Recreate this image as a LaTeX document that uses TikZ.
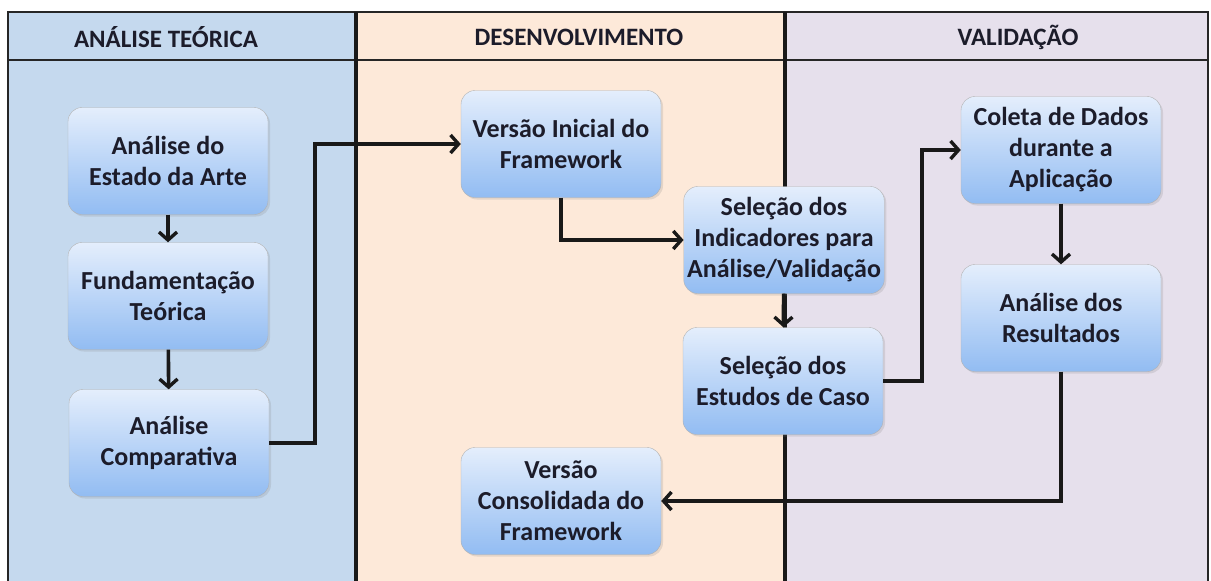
\documentclass[tikz,border=0pt]{standalone}
\usepackage{fontspec}
\setmainfont{Carlito}
\usepackage{tikz}
\usetikzlibrary{positioning, calc, arrows.meta, shadows}
\definecolor{lane one}{RGB}{197,217,238}
\definecolor{lane two}{RGB}{253,233,217}
\definecolor{lane three}{RGB}{230,224,236}
\definecolor{box top}{RGB}{228,238,252}
\definecolor{box bottom}{RGB}{146,188,242}
\definecolor{ink}{RGB}{28,28,42}
\tikzset{border/.style={line width=2.6pt, black!85}}
\tikzset{divider/.style={line width=3.6pt, black!90}}
\tikzset{heading/.style={font=\bfseries\fontsize{25}{28}\selectfont, text=ink}}
\tikzset{task/.style={rounded corners=14pt, draw=black!30, top color=box top, bottom color=box bottom, minimum width=200pt, minimum height=107pt, align=center, font=\bfseries\fontsize{26}{31}\selectfont, text=ink, drop shadow={opacity=0.2, shadow xshift=2pt, shadow yshift=-2pt}}}
\tikzset{flow/.style={line width=3.6pt, black!90, -{Straight Barb[length=8pt, width=18pt, line width=3.4pt]}}}

\begin{document}
\begin{tikzpicture}[x=1pt, y=-1pt]
                \useasboundingbox (0, 0) rectangle (1211, 581);
                \fill[white] (0, 0) rectangle (1211, 581);
                \fill[lane one] (8, 12) rectangle (356, 581);
                \fill[lane two] (356, 12) rectangle (785, 581);
                \fill[lane three] (785, 12) rectangle (1208, 581);
                \draw[border] (8, 581) -- (8, 12) -- (1208, 12) -- (1208, 581);
                \draw[border] (8, 60) -- (1208, 60);
                \draw[divider] (356, 12) -- (356, 581);
                \draw[divider] (785, 12) -- (785, 581);
                \node[heading] (teoria) at (166, 37) {ANÁLISE TEÓRICA};
                \node[heading] (desenv) at (579, 37) {DESENVOLVIMENTO};
                \node[heading] (valid) at (1018, 37) {VALIDAÇÃO};
                \node[task] (estado) at (168, 161) {Análise do\\Estado da Arte};
                \node[task] (fund) at (168, 296) {Fundamentação\\Teórica};
                \node[task] (comp) at (169, 443) {Análise\\Comparativa};
                \node[task] (inicial) at (561, 144) {Versão Inicial do\\Framework};
                \node[task] (indic) at (784, 240) {Seleção dos\\Indicadores para\\Análise/Validação};
                \node[task] (estudos) at (783, 381) {Seleção dos\\Estudos de Caso};
                \node[task] (consol) at (561, 501) {Versão\\Consolidada do\\Framework};
                \node[task] (coleta) at (1061, 150) {Coleta de Dados\\durante a\\Aplicação};
                \node[task] (result) at (1061, 318) {Análise dos\\Resultados};
                \draw[flow] (estado) -- (fund);
                \draw[flow] (fund) -- (comp);
                \draw[flow] (comp.east) -- ++(46, 0) |- (inicial.west);
                \draw[flow] (inicial.south) |- (indic.west);
                \draw[flow] (indic) -- (estudos);
                \draw[flow] (estudos.east) -- ++(39, 0) |- (coleta.west);
                \draw[flow] (coleta) -- (result);
                \draw[flow] (result.south) |- (consol.east);
            \end{tikzpicture}
\end{document}
